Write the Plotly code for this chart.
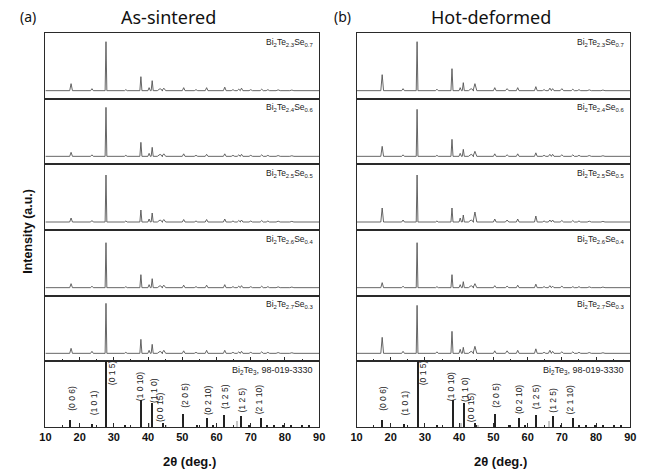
import plotly.graph_objects as go

# the page body has an 8px margin, so the figure is drawn 8px in from the window corner
OFF = 8
W, H = 653 - OFF, 473 - OFF

# ---------------- data ----------------
peak_2theta = [17.5, 23.6, 27.7, 33.5, 37.9, 40.3, 41.2, 43.5, 44.6, 50.4, 54.0,
               57.1, 62.4, 64.8, 66.5, 67.3, 70.0, 73.2, 75.0, 78.0, 82.0]
peak_halfwidth = [0.4, 0.4, 0.25, 0.4, 0.3, 0.35, 0.3, 0.8, 0.55, 0.4, 0.5,
                  0.4, 0.4, 0.5, 0.45, 0.4, 0.5, 0.45, 0.5, 0.6, 0.6]

samples = ["Bi<sub>2</sub>Te<sub>2.3</sub>Se<sub>0.7</sub>",
           "Bi<sub>2</sub>Te<sub>2.4</sub>Se<sub>0.6</sub>",
           "Bi<sub>2</sub>Te<sub>2.5</sub>Se<sub>0.5</sub>",
           "Bi<sub>2</sub>Te<sub>2.6</sub>Se<sub>0.4</sub>",
           "Bi<sub>2</sub>Te<sub>2.7</sub>Se<sub>0.3</sub>"]

# peak heights (arbitrary units) for each peak position above
sintered_07 = [7, 2, 49, 1, 14, 3, 10, 2, 2.5, 3, 1, 3, 3.5, 1, 1.5, 2.5, 1, 1.5, 1, 0.8, 0.6]
sintered_06 = [4, 1.5, 49, 1, 14, 3, 9, 2, 2.5, 2.5, 1, 2, 2.5, 1, 1.5, 2, 1, 1.5, 1, 0.8, 0.6]
sintered_05 = [4, 1.5, 47, 1, 12, 3, 9, 2, 2.5, 2.5, 1, 2.5, 3, 1, 1.5, 2, 1, 1.5, 1, 0.8, 0.6]
sintered_04 = [4, 1.5, 45, 1, 13, 3, 9, 2, 2.5, 2.5, 1, 2.5, 3, 1, 1.5, 2, 1, 1.5, 1, 0.8, 0.6]
sintered_03 = [5, 2, 50, 1, 14, 3, 9, 2, 3, 2.5, 1, 3, 3, 1, 1.5, 2, 1, 1.5, 1, 0.8, 0.6]

deformed_07 = [16, 2, 49, 1.5, 22, 3, 8, 2, 7, 3, 2, 3, 4, 1, 2.5, 2, 2, 1.5, 1, 0.8, 0.6]
deformed_06 = [10, 1.5, 47, 1, 17, 3, 7, 2, 5, 2.5, 1.5, 2.5, 3.5, 1, 2, 2, 1.5, 1.5, 1, 0.8, 0.6]
deformed_05 = [14, 2, 47, 1, 14, 4, 7, 2, 10, 3, 2, 3, 6, 1, 2, 2, 1.5, 1.5, 1, 0.8, 0.6]
deformed_04 = [5, 1.5, 45, 1, 13, 3, 6, 2, 4, 2, 1.5, 2.5, 3.5, 1, 2, 1.5, 1.5, 1, 1, 0.8, 0.6]
deformed_03 = [16, 2, 48, 1.5, 22, 4, 6, 2, 7, 2.5, 2.5, 3, 4.5, 1, 3, 2, 1.5, 1.5, 1, 0.8, 0.6]

sintered = [sintered_07, sintered_06, sintered_05, sintered_04, sintered_03]
deformed = [deformed_07, deformed_06, deformed_05, deformed_04, deformed_03]

# reference Bi2Te3 pattern (98-019-3330)
ref_2theta = [17.4, 23.6, 27.7, 33.5, 38.0, 40.4, 41.2, 44.6, 45.5, 50.3, 54.3,
              57.2, 59.0, 62.4, 66.0, 67.2, 69.5, 73.2, 75.0, 77.0, 79.5, 82.0, 85.0, 87.0]
ref_intensity = [7, 3, 66, 1, 27, 4, 24, 4, 2, 13, 1.5, 9, 1, 12, 6, 11, 1, 9, 1.5, 1, 1, 1, 1, 1]
ref_weak = [False, False, False, False, False, True, False, False, True, False, False,
            False, False, False, True, False, False, False, False, False, False, False, False, False]

hkl_labels = ["(0 0 6)", "(1 0 1)", "(0 1 5)", "(1 0 10)", "(1 1 0)", "(0 0 15)",
              "(2 0 5)", "(0 2 10)", "(1 2 5)", "(1 2 5)", "(2 1 10)"]
hkl_2theta = [17.7, 24.3, 29.5, 37.7, 41.7, 43.5, 50.7, 57.5, 62.5, 67.3, 72.5]
hkl_center = [29, 24, 54, 40, 37, 19, 32, 27, 30, 27, 27]

ticks = [10, 20, 30, 40, 50, 60, 70, 80, 90]
panel_titles = ["As-sintered", "Hot-deformed"]
panel_tags = ["(a)", "(b)"]
ref_label = "Bi<sub>2</sub>Te<sub>3</sub>, 98-019-3330"

# ---------------- layout geometry (window pixels) ----------------
col_px = [(40, 319), (357, 636)]
top_px, bot_px = 33, 427
row_h = (bot_px - top_px) / 6
PANEL_UNITS = 65.7
BASE_OFF = 8.0


def px2py(p):
    return 1 - (p - OFF) / H


def px2px(p):
    return (p - OFF) / W


def build_curve(heights):
    xs, ys = [10.0], [0.0]
    for p, hw, h in zip(peak_2theta, peak_halfwidth, heights):
        xs += [p - hw, p, p + hw]
        ys += [0.0, h, 0.0]
    xs.append(90.0)
    ys.append(0.0)
    return xs, ys


fig = go.Figure()
layout = {}
annotations = []
axis_line = "#2a2a2a"
tick_font = dict(family="Liberation Sans, Arial", size=11, color="#111", weight="bold")

for c in range(2):
    x0, x1 = col_px[c]
    for r in range(6):
        k = c * 6 + r + 1
        xa = "xaxis" if k == 1 else f"xaxis{k}"
        ya = "yaxis" if k == 1 else f"yaxis{k}"
        xr = "x" if k == 1 else f"x{k}"
        yr = "y" if k == 1 else f"y{k}"
        ytop = top_px + r * row_h
        ybot = ytop + row_h
        xdict = dict(domain=[px2px(x0), px2px(x1)], range=[10, 90], anchor=yr,
                     showline=True, mirror=True, linecolor=axis_line, linewidth=1,
                     showgrid=False, zeroline=False, showticklabels=False, ticks="")
        if r >= 4:
            xdict.update(ticks="inside", tickvals=ticks, ticklen=4, tickwidth=1,
                         tickcolor=axis_line,
                         minor=dict(ticks="inside", dtick=5, tick0=5, ticklen=2.5,
                                    tickwidth=1, tickcolor=axis_line))
        if r == 5:
            xdict.update(showticklabels=True, ticktext=[str(t) for t in ticks],
                         tickfont=tick_font)
        ydict = dict(domain=[px2py(ybot), px2py(ytop)], anchor=xr,
                     showline=True, mirror=True, linecolor=axis_line, linewidth=1,
                     showgrid=False, zeroline=False, showticklabels=False, ticks="")
        if r < 5:
            ydict["range"] = [-BASE_OFF, PANEL_UNITS - BASE_OFF]
            data = (sintered if c == 0 else deformed)[r]
            xs, ys = build_curve(data)
            fig.add_trace(go.Scatter(x=xs, y=ys, mode="lines", xaxis=xr, yaxis=yr,
                                     line=dict(color="#555555", width=0.9),
                                     showlegend=False, hoverinfo="skip"))
            annotations.append(dict(xref="paper", yref="paper",
                                    x=px2px(x1 - 4), y=px2py(ytop + 9),
                                    xanchor="right", yanchor="middle",
                                    text=samples[r], showarrow=False,
                                    font=dict(family="Liberation Sans, Arial",
                                              size=8.5, color="#222")))
        else:
            ydict["range"] = [0, PANEL_UNITS]
            colors = ["#c8c8c8" if w else "#222222" for w in ref_weak]
            fig.add_trace(go.Bar(x=ref_2theta, y=ref_intensity, width=0.3,
                                 xaxis=xr, yaxis=yr, marker=dict(color=colors, line=dict(width=0)),
                                 showlegend=False, hoverinfo="skip"))
            annotations.append(dict(xref="paper", yref="paper",
                                    x=px2px(x1 - 4), y=px2py(ytop + 9),
                                    xanchor="right", yanchor="middle",
                                    text=ref_label, showarrow=False,
                                    font=dict(family="Liberation Sans, Arial",
                                              size=9, color="#222")))
            for lab, lx, ly in zip(hkl_labels, hkl_2theta, hkl_center):
                annotations.append(dict(xref=xr, yref=yr, x=lx, y=ly, text=lab,
                                        textangle=-90, showarrow=False,
                                        xanchor="center", yanchor="middle",
                                        font=dict(family="Liberation Sans, Arial",
                                                  size=8.5, color="#222")))
        layout[xa] = xdict
        layout[ya] = ydict

    cx = (x0 + x1) / 2
    annotations.append(dict(xref="paper", yref="paper", x=px2px(cx + 7), y=px2py(461),
                            text="2θ (deg.)", showarrow=False, xanchor="center",
                            yanchor="middle",
                            font=dict(family="Liberation Sans, Arial", size=13,
                                      color="#111", weight="bold")))
    annotations.append(dict(xref="paper", yref="paper", x=px2px(cx - 14 if c == 0 else cx - 2),
                            y=px2py(17), text=panel_titles[c], showarrow=False,
                            xanchor="center", yanchor="middle",
                            font=dict(family="Noto Sans", size=18, color="#111")))
    annotations.append(dict(xref="paper", yref="paper",
                            x=px2px(22 if c == 0 else 343), y=px2py(16),
                            text=panel_tags[c], showarrow=False,
                            xanchor="center", yanchor="middle",
                            font=dict(family="Noto Sans", size=14, color="#111")))

annotations.append(dict(xref="paper", yref="paper", x=px2px(22), y=px2py(231),
                        text="Intensity (a.u.)", textangle=-90, showarrow=False,
                        xanchor="center", yanchor="middle",
                        font=dict(family="Liberation Sans, Arial", size=12.5,
                                  color="#111", weight="bold")))

fig.update_layout(width=W, height=H, margin=dict(l=0, r=0, t=0, b=0),
                  paper_bgcolor="white", plot_bgcolor="white",
                  annotations=annotations, bargap=0, **layout)

fig.write_html("out.html")
